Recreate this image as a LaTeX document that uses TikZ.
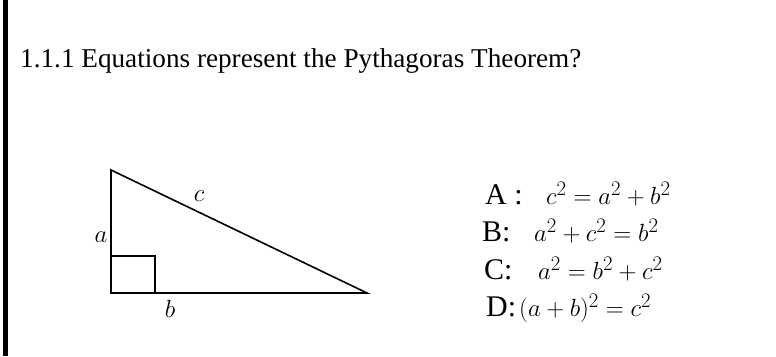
\documentclass[tikz,border=0pt]{standalone}
\usepackage{fontspec}
\setmainfont{Liberation Serif}
\begin{document}
\begin{tikzpicture}[x=1pt,y=1pt,
  lbl/.style={inner sep=0pt,font=\fontsize{28}{32}\selectfont},
  eq/.style={inner sep=0pt,anchor=base west,font=\fontsize{30}{36}\selectfont},
  edge/.style={line width=1.6pt}]
\useasboundingbox (0,0) rectangle (776,356);
\fill[black] (3,0) rectangle (8,356);
\node[inner sep=0pt,anchor=base west,font=\fontsize{27.2}{30}\selectfont] (title) at (20,288) {1.1.1 Equations represent the Pythagoras Theorem?};
% triangle
\coordinate (T) at (111,186);
\coordinate (O) at (111,63);
\coordinate (R) at (367,63);
\draw[edge,line join=miter] (T) -- (O) -- (R) -- cycle;
\coordinate (s1) at (111,100);
\coordinate (s2) at (155,100);
\coordinate (s3) at (155,63);
\draw[edge] (s1) -- (s2) -- (s3);
\node[lbl] (lc) at (199,160) {$c$};
\node[lbl] (la) at (101,119) {$a$};
\node[lbl] (lb) at (170,47) {$b$};
% equations
\node[eq] (A) at (485,151) {A :};
\node[eq] (Ae) at (546,151) {$c^2 = a^2 + b^2$};
\node[eq] (B) at (482,114) {B:};
\node[eq] (Be) at (534,114) {$a^2 + c^2 = b^2$};
\node[eq] (C) at (484,76) {C:};
\node[eq] (Ce) at (538,76) {$a^2 = b^2 + c^2$};
\node[eq] (D) at (486,39) {D:};
\node[eq] (De) at (519,39) {$(a + b)^2 = c^2$};
\end{tikzpicture}
\end{document}
